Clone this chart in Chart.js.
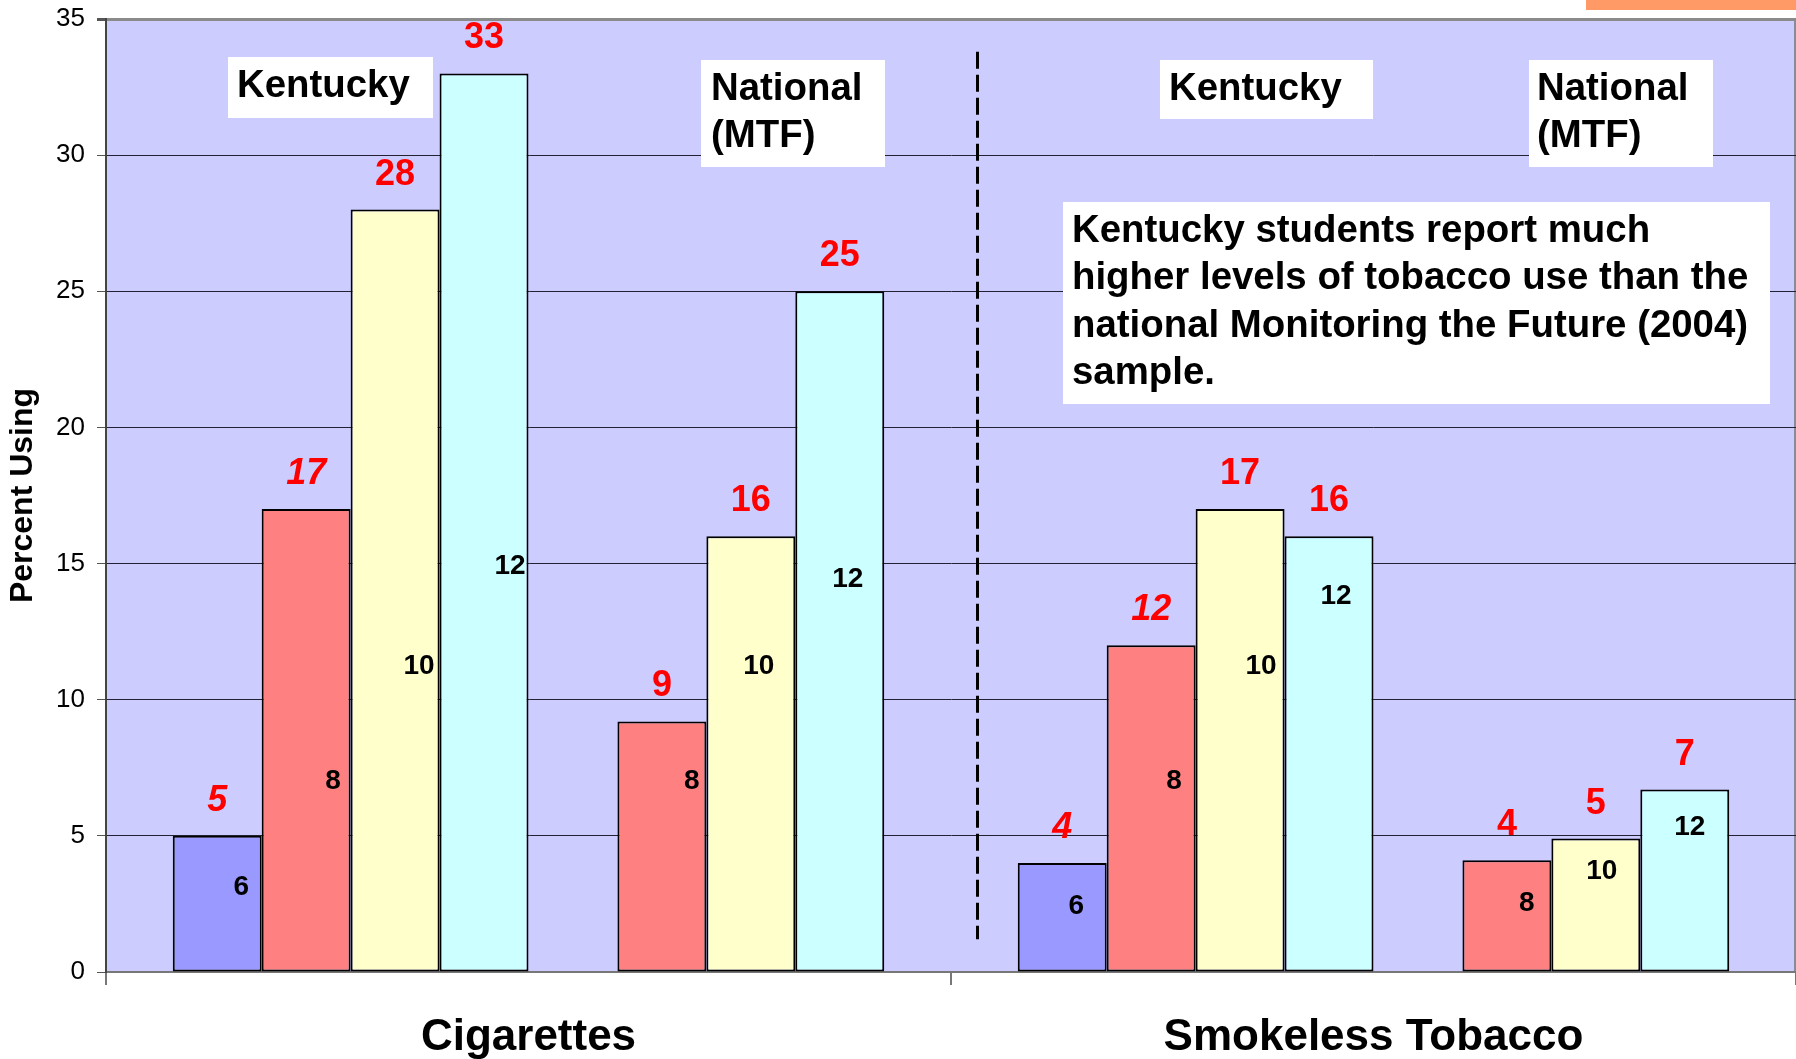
<!DOCTYPE html>
<html>
<head>
<meta charset="utf-8">
<title>Tobacco use - Kentucky vs National (MTF)</title>
<script src="https://cdn.jsdelivr.net/npm/chart.js@4.4.1/dist/chart.umd.min.js"></script>
<style>
    html, body { margin: 0; padding: 0; background: #ffffff; }
    #wrap { width: 1796px; height: 1059px; }
</style>
</head>
<body>
<div id="wrap"><canvas id="tobaccoChart" width="1796" height="1059"></canvas></div>
<script>
// ==========================================
// DATA
// ==========================================

const categories = ['Cigarettes', 'Smokeless Tobacco'];
const grades = ['6', '8', '10', '12', '6', '8', '10', '12'];

// Percent using, [Cigarettes, Smokeless Tobacco]
const kentucky6 = [5, 4];
const kentucky8 = [17, 12];
const kentucky10 = [28, 17];
const kentucky12 = [33, 16];
const national6 = [null, null];   // MTF has no 6th grade, slot stays empty
const national8 = [9.2, 4.1];
const national10 = [16, 4.9];
const national12 = [25, 6.7];

const yTicks = [0, 5, 10, 15, 20, 25, 30, 35];

// ==========================================
// LOOK
// ==========================================

const FONT = "'Liberation Sans', Arial, sans-serif";
Chart.defaults.font.family = FONT;
Chart.defaults.color = '#000000';

const gradeColors = ['#9999FF', '#FF8080', '#FFFFCC', '#CCFFFF'];

// where the grade number sits inside each bar: [height on value axis, px right of bar centre]
const gradeSpots = [
    [[3.2, 24], [2.5, 14]],
    [[7.1, 27], [7.1, 23]],
    [[11.3, 24], [11.3, 21]],
    [[15.0, 26], [13.9, 7]],
    [null, null],
    [[7.1, 30], [2.6, 20]],
    [[11.3, 8], [3.8, 6]],
    [[14.5, 8], [5.4, 5]]
];

// white text boxes laid over the plot: [x, y, w, h], text left, baselines
const noteBoxes = [
    { box: [228, 57, 205, 61], x: 237, lines: ['Kentucky'], base: [97] },
    { box: [701, 60, 184, 107], x: 711, lines: ['National', '(MTF)'], base: [100, 147] },
    { box: [1160, 60, 213, 59], x: 1169, lines: ['Kentucky'], base: [100] },
    { box: [1529, 60, 184, 107], x: 1537, lines: ['National', '(MTF)'], base: [100, 147] },
    {
        box: [1063, 202, 707, 202], x: 1072,
        lines: [
            'Kentucky students report much',
            'higher levels of tobacco use than the',
            'national Monitoring the Future (2004)',
            'sample.'
        ],
        base: [242, 289, 337, 384]
    }
];

const makeSet = (label, data, color) => ({
    label: label,
    data: data,
    backgroundColor: color,
    borderColor: '#000000',
    borderWidth: 2,
    borderSkipped: false
});

const datasets = [
    makeSet('Kentucky 6', kentucky6, gradeColors[0]),
    makeSet('Kentucky 8', kentucky8, gradeColors[1]),
    makeSet('Kentucky 10', kentucky10, gradeColors[2]),
    makeSet('Kentucky 12', kentucky12, gradeColors[3]),
    makeSet('National 6', national6, gradeColors[0]),
    makeSet('National 8', national8, gradeColors[1]),
    makeSet('National 10', national10, gradeColors[2]),
    makeSet('National 12', national12, gradeColors[3])
];

// ==========================================
// PLUGINS
// ==========================================

// periwinkle plot area + orange strip in the corner
const plotBackground = {
    id: 'plotBackground',
    beforeDraw(chart) {
        const { ctx, chartArea } = chart;
        ctx.save();
        ctx.fillStyle = '#CCCCFF';
        ctx.fillRect(chartArea.left, chartArea.top, chartArea.right - chartArea.left, chartArea.bottom - chartArea.top);
        ctx.strokeStyle = '#8a8a9a';
        ctx.lineWidth = 2;
        ctx.beginPath();
        ctx.moveTo(chartArea.right - 1, chartArea.top);
        ctx.lineTo(chartArea.right - 1, chartArea.bottom);
        ctx.stroke();
        ctx.fillStyle = '#FF9966';
        ctx.fillRect(1586, 0, 210, 10);
        ctx.restore();
    }
};

const overlays = {
    id: 'overlays',
    afterDatasetsDraw(chart) {
        const { ctx } = chart;
        const xs = chart.scales.x;
        const ys = chart.scales.y;
        ctx.save();

        // dashed divider between the two groups
        ctx.strokeStyle = '#000000';
        ctx.lineWidth = 3;
        ctx.setLineDash([17, 6]);
        ctx.beginPath();
        const dx = Math.round(xs.getPixelForValue(0.531)) + 0.5;
        ctx.moveTo(dx, ys.getPixelForValue(33.8));
        ctx.lineTo(dx, ys.getPixelForValue(1.2));
        ctx.stroke();
        ctx.setLineDash([]);

        chart.data.datasets.forEach((ds, i) => {
            const meta = chart.getDatasetMeta(i);
            meta.data.forEach((bar, j) => {
                const v = ds.data[j];
                if (v === null || v === undefined) return;

                // value on top, in red
                ctx.fillStyle = '#FF0000';
                ctx.font = (i < 2 ? 'italic ' : '') + 'bold 36px ' + FONT;
                ctx.textAlign = 'center';
                ctx.textBaseline = 'alphabetic';
                ctx.fillText(String(Math.round(v)), bar.x, bar.y - 25);

                // grade number inside the bar
                const spot = gradeSpots[i][j];
                if (spot) {
                    ctx.fillStyle = '#000000';
                    ctx.font = 'bold 28px ' + FONT;
                    ctx.fillText(grades[i], bar.x + spot[1], ys.getPixelForValue(spot[0]) + 10);
                }
            });
        });

        // white note boxes
        noteBoxes.forEach(n => {
            ctx.fillStyle = '#FFFFFF';
            ctx.fillRect(n.box[0], n.box[1], n.box[2], n.box[3]);
            ctx.fillStyle = '#000000';
            ctx.font = 'bold 38.4px ' + FONT;
            ctx.textAlign = 'left';
            ctx.textBaseline = 'alphabetic';
            n.lines.forEach((line, k) => ctx.fillText(line, n.x, n.base[k]));
        });

        ctx.restore();
    }
};

// ==========================================
// CHART
// ==========================================

const chartCtx = document.getElementById('tobaccoChart').getContext('2d');
const tobaccoChart = new Chart(chartCtx, {
    type: 'bar',
    data: {
        labels: categories,
        datasets: datasets
    },
    options: {
        responsive: false,
        animation: false,
        layout: {
            padding: { top: 19, right: 0, bottom: 0, left: 0 }
        },
        datasets: {
            bar: {
                categoryPercentage: 0.842,
                barPercentage: 1
            }
        },
        plugins: {
            legend: { display: false },
            tooltip: { enabled: false }
        },
        scales: {
            x: {
                grid: {
                    offset: true,
                    drawOnChartArea: false,
                    drawTicks: true,
                    tickLength: 13,
                    color: '#777777',
                    lineWidth: 2
                },
                border: { display: true, color: '#777777', width: 2 },
                ticks: {
                    font: { size: 44, weight: 'bold' },
                    color: '#000000',
                    padding: 26,
                    maxRotation: 0
                },
                afterFit(scale) { scale.height = 87; }
            },
            y: {
                min: 0,
                max: 35,
                afterBuildTicks(scale) {
                    scale.ticks = yTicks.map(v => ({ value: v }));
                },
                grid: {
                    color: c => c.tick.value === 35 ? '#8a8a8a' : (c.tick.value === 0 ? '#777777' : '#222233'),
                    lineWidth: c => c.tick.value === 35 ? 3 : 1,
                    tickLength: 9,
                    tickColor: '#555555'
                },
                border: { display: true, color: '#444444', width: 2 },
                ticks: {
                    font: { size: 26 },
                    color: '#000000',
                    padding: 12
                },
                title: {
                    display: true,
                    text: 'Percent Using',
                    font: { size: 32, weight: 'bold' },
                    color: '#000000',
                    padding: { top: 4, bottom: 4 }
                },
                afterFit(scale) {
                    scale.width = 106;
                    // let the layout padding alone decide where the plot starts
                    scale.paddingTop = 0;
                    scale.paddingBottom = 0;
                }
            }
        }
    },
    plugins: [plotBackground, overlays]
});
</script>
</body>
</html>
